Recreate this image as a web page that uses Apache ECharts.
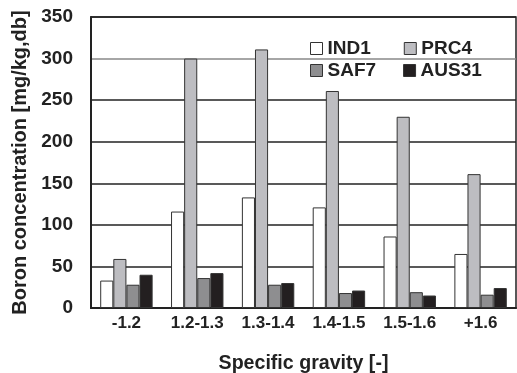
<!DOCTYPE html>
<html><head><meta charset="utf-8">
<script src="https://cdn.jsdelivr.net/npm/echarts@6/dist/echarts.min.js"></script>
<style>html,body{margin:0;padding:0;background:#fff}#c{width:517px;height:373px}</style>
</head><body><div id="c"></div>
<script>
const categories = ['-1.2', '1.2-1.3', '1.3-1.4', '1.4-1.5', '1.5-1.6', '+1.6'];
const IND1 = [33, 116, 133, 121, 86, 65];
const PRC4 = [59, 300, 311, 261, 230, 161];
const SAF7 = [28, 36, 28, 18, 19, 16];
const AUS31 = [40, 42, 30, 21, 15, 24];
const yTicks = [0, 50, 100, 150, 200, 250, 300, 350];
const legendRow1 = ['IND1', 'PRC4'];
const legendRow2 = ['SAF7', 'AUS31'];

const font = 'Liberation Sans, Arial, sans-serif';
const seriesDefs = [
  { name: 'IND1', data: IND1, color: '#ffffff' },
  { name: 'PRC4', data: PRC4, color: '#bdbdc1' },
  { name: 'SAF7', data: SAF7, color: '#8e8e90' },
  { name: 'AUS31', data: AUS31, color: '#231f20' }
];
const legendBase = {
  left: 305, backgroundColor: '#fff',
  icon: 'rect', itemWidth: 12, itemHeight: 12,
  textStyle: { fontFamily: font, fontWeight: 'bold', fontSize: 19, color: '#222' },
  itemStyle: { borderColor: '#333', borderWidth: 1 }
};
const chart = echarts.init(document.getElementById('c'));
chart.setOption({
  animation: false,
  backgroundColor: '#fff',
  grid: { left: 91, top: 17, right: 1, bottom: 65, containLabel: false, outerBoundsMode: 'none',
    show: true, borderColor: '#222', borderWidth: 1.5, backgroundColor: 'transparent' },
  legend: [
    Object.assign({}, legendBase, { top: 35, padding: [4, 16, 0, 5], itemGap: 33, data: legendRow1 }),
    Object.assign({}, legendBase, { top: 61, padding: [0, 5, 4, 5], itemGap: 27, data: legendRow2 })
  ],
  xAxis: {
    type: 'category', data: categories,
    name: 'Specific gravity [-]', nameLocation: 'middle', nameGap: 46,
    nameTextStyle: { fontFamily: font, fontWeight: 'bold', fontSize: 19.6, color: '#222' },
    axisLine: { lineStyle: { color: '#222', width: 2 } },
    axisTick: { inside: true, length: 5, lineStyle: { color: '#222', width: 1 } },
    axisLabel: { interval: 0, fontFamily: font, fontWeight: 'bold', fontSize: 17, color: '#222', margin: 7 }
  },
  yAxis: {
    type: 'value', min: 0, max: 350, interval: 50,
    name: 'Boron concentration [mg/kg,db]', nameLocation: 'middle', nameGap: 61,
    nameTextStyle: { fontFamily: font, fontWeight: 'bold', fontSize: 20, color: '#222' },
    axisLine: { show: true, lineStyle: { color: '#222', width: 2 } },
    axisTick: { show: false },
    axisLabel: { fontFamily: font, fontWeight: 'bold', fontSize: 19, color: '#222', margin: 18,
      formatter: v => yTicks.includes(v) ? String(v) : '' },
    splitLine: { show: true, lineStyle: { color: ['#222', '#222', '#222', '#222', '#222', '#222', '#888', '#222'], width: 1.5 } }
  },
  series: seriesDefs.map(s => ({
    name: s.name, type: 'bar', data: s.data,
    barGap: '0%', barCategoryGap: '26%',
    itemStyle: { color: s.color, borderColor: '#333', borderWidth: 1 }
  }))
});
</script></body></html>
